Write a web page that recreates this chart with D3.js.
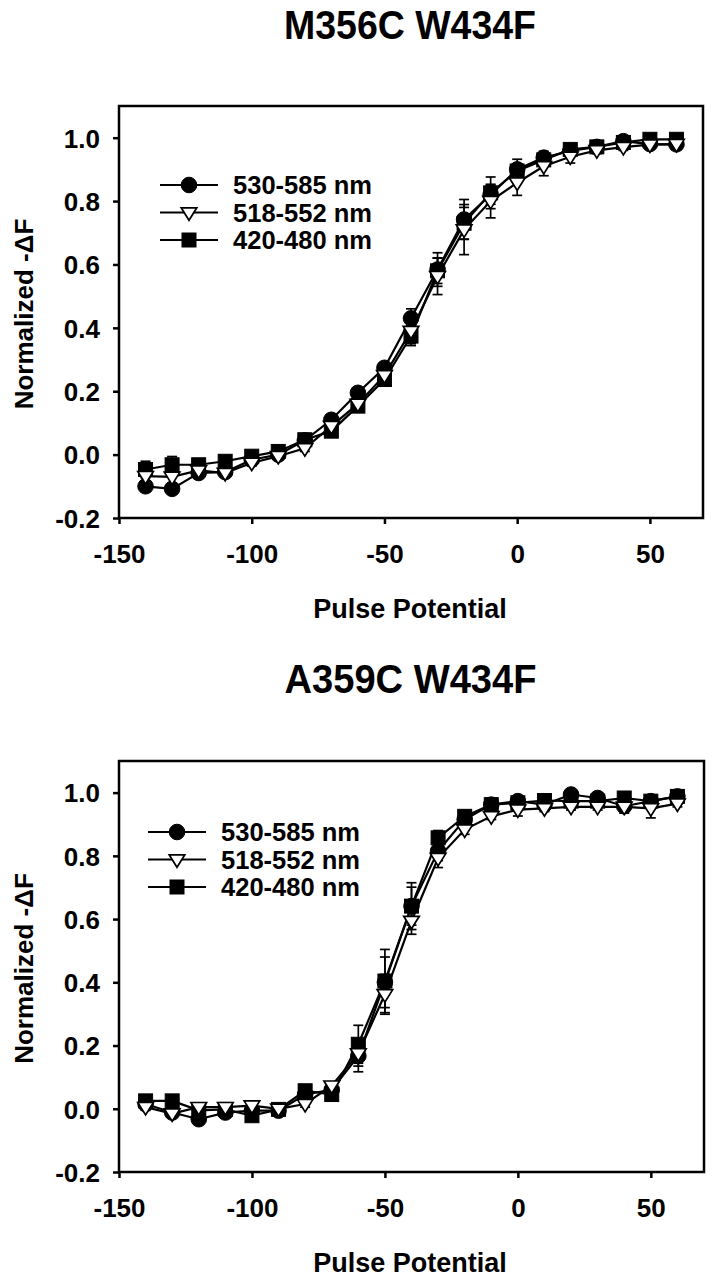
<!DOCTYPE html>
<html>
<head>
<meta charset="utf-8">
<script src="https://cdn.jsdelivr.net/npm/d3@7"></script>
<style>
  html, body { margin: 0; padding: 0; background: #fff; }
  svg { display: block; }
  text { font-family: "Liberation Sans", Arial, Helvetica, sans-serif; font-weight: bold; fill: #000; }
</style>
</head>
<body>
<script>
// ---------------- data ----------------
const potentials = [-140,-130,-120,-110,-100,-90,-80,-70,-60,-50,-40,-30,-20,-10,0,10,20,30,40,50,60];
const seriesNames = ["530-585 nm", "518-552 nm", "420-480 nm"];
const xTicks = [-150, -100, -50, 0, 50];
const yTicks = [-0.2, 0.0, 0.2, 0.4, 0.6, 0.8, 1.0];
const panelTitles = ["M356C W434F", "A359C W434F"];
const xTitle = "Pulse Potential";
const yTitle = "Normalized -\u0394F";

// Panel 1: M356C W434F
const m356_530 = [-0.100,-0.108,-0.058,-0.055,-0.016,0.000,0.045,0.110,0.195,0.274,0.430,0.584,0.742,0.820,0.900,0.937,0.958,0.971,0.989,0.980,0.979];
const m356_518 = [-0.068,-0.070,-0.050,-0.058,-0.026,-0.005,0.020,0.090,0.160,0.250,0.390,0.563,0.710,0.800,0.858,0.910,0.940,0.960,0.970,0.978,0.980];
const m356_420 = [-0.047,-0.032,-0.032,-0.021,-0.005,0.010,0.047,0.074,0.153,0.237,0.374,0.580,0.730,0.826,0.895,0.930,0.963,0.971,0.985,0.995,0.995];
const m356_530_err = [0.010,0.010,0.008,0.008,0.008,0.008,0.008,0.010,0.010,0.015,0.030,0.053,0.063,0.030,0.032,0.020,0.010,0.008,0.008,0.008,0.008];
const m356_518_err = [0.015,0.020,0.010,0.010,0.010,0.010,0.010,0.010,0.015,0.020,0.040,0.058,0.079,0.053,0.040,0.030,0.020,0.010,0.010,0.010,0.010];
const m356_420_err = [0.026,0.026,0.010,0.010,0.008,0.008,0.008,0.010,0.015,0.020,0.030,0.040,0.050,0.050,0.020,0.010,0.010,0.008,0.008,0.008,0.008];

// Panel 2: A359C W434F
const a359_530 = [0.015,-0.012,-0.033,-0.012,-0.006,-0.006,0.045,0.060,0.167,0.400,0.641,0.815,0.915,0.962,0.973,0.962,0.994,0.983,0.957,0.973,0.988];
const a359_518 = [0.005,-0.015,0.005,0.005,0.010,0.000,0.015,0.073,0.175,0.362,0.594,0.793,0.883,0.925,0.946,0.950,0.955,0.955,0.955,0.950,0.965];
const a359_420 = [0.025,0.025,-0.005,-0.002,-0.022,-0.002,0.057,0.045,0.204,0.404,0.641,0.857,0.925,0.962,0.968,0.975,0.973,0.973,0.983,0.973,0.988];
const a359_530_err = [0.008,0.008,0.008,0.008,0.008,0.008,0.008,0.010,0.050,0.080,0.060,0.030,0.010,0.010,0.010,0.010,0.010,0.010,0.010,0.010,0.008];
const a359_518_err = [0.010,0.010,0.010,0.010,0.010,0.010,0.010,0.010,0.040,0.063,0.042,0.030,0.015,0.010,0.020,0.010,0.010,0.010,0.020,0.030,0.010];
const a359_420_err = [0.008,0.008,0.008,0.008,0.008,0.008,0.008,0.010,0.060,0.100,0.074,0.023,0.010,0.008,0.008,0.008,0.008,0.008,0.008,0.008,0.008];

// ---------------- layout ----------------
const W = 713, H = 1280;
const svg = d3.select("body").append("svg").attr("width", W).attr("height", H);

const panels = [
  { title: panelTitles[0], titleY: 39, left: 119, right: 703, top: 106, bottom: 518,
    legendX: 160, legendY: 185,
    series: [
      { name: seriesNames[0], vals: m356_530, err: m356_530_err, shape: "circle" },
      { name: seriesNames[1], vals: m356_518, err: m356_518_err, shape: "triangle" },
      { name: seriesNames[2], vals: m356_420, err: m356_420_err, shape: "square" }
    ] },
  { title: panelTitles[1], titleY: 693, left: 119, right: 704, top: 761, bottom: 1172,
    legendX: 148, legendY: 832,
    series: [
      { name: seriesNames[0], vals: a359_530, err: a359_530_err, shape: "circle" },
      { name: seriesNames[1], vals: a359_518, err: a359_518_err, shape: "triangle" },
      { name: seriesNames[2], vals: a359_420, err: a359_420_err, shape: "square" }
    ] }
];

const fmtY = d => d3.format(".1f")(d).replace("\u2212", "-");
const fmtX = d => String(d);

function drawMarker(g, shape, cx, cy) {
  if (shape === "circle") {
    g.append("circle").attr("cx", cx).attr("cy", cy).attr("r", 7.8)
      .attr("fill", "#000").attr("stroke", "#000").attr("stroke-width", 1);
  } else if (shape === "square") {
    g.append("rect").attr("x", cx - 7).attr("y", cy - 7).attr("width", 14).attr("height", 14)
      .attr("fill", "#000").attr("stroke", "#000").attr("stroke-width", 1);
  } else {
    const s = 7.8;
    g.append("path")
      .attr("d", `M${cx - s},${cy - s * 0.6}L${cx + s},${cy - s * 0.6}L${cx},${cy + s * 1.0}Z`)
      .attr("fill", "#fff").attr("stroke", "#000").attr("stroke-width", 1.7);
  }
}

panels.forEach(p => {
  const x = d3.scaleLinear().domain([-150, 70]).range([p.left, p.right]);
  const y = d3.scaleLinear().domain([-0.2, 1.1]).range([p.bottom, p.top]);
  const g = svg.append("g");

  // title
  g.append("text").attr("x", (p.left + p.right) / 2 - 1).attr("y", p.titleY)
    .attr("text-anchor", "middle").style("font-size", "40px")
    .attr("textLength", 252).attr("lengthAdjust", "spacingAndGlyphs")
    .text(p.title);

  // x axis
  const xAxis = g.append("g").attr("transform", `translate(0,${p.bottom})`)
    .call(d3.axisBottom(x).tickValues(xTicks).tickFormat(fmtX).tickSize(6).tickSizeOuter(0));
  xAxis.select(".domain").remove();
  xAxis.selectAll(".tick line").attr("stroke", "#000").attr("stroke-width", 2.5);
  xAxis.selectAll(".tick text").attr("y", 45).attr("dy", 0).style("font-size", "26px");

  // y axis
  const yAxis = g.append("g").attr("transform", `translate(${p.left},0)`)
    .call(d3.axisLeft(y).tickValues(yTicks).tickFormat(fmtY).tickSize(6).tickSizeOuter(0));
  yAxis.select(".domain").remove();
  yAxis.selectAll(".tick line").attr("stroke", "#000").attr("stroke-width", 2.5);
  yAxis.selectAll(".tick text").attr("x", -19).attr("dy", "0.36em").style("font-size", "26px");

  // frame
  g.append("rect").attr("x", p.left).attr("y", p.top)
    .attr("width", p.right - p.left).attr("height", p.bottom - p.top)
    .attr("fill", "none").attr("stroke", "#000").attr("stroke-width", 2.5);

  // axis titles
  g.append("text").attr("x", 410).attr("y", p.bottom + 100)
    .attr("text-anchor", "middle").style("font-size", "27px").text(xTitle);
  g.append("text").attr("transform", `translate(33,${(p.top + p.bottom) / 2 + 2}) rotate(-90)`)
    .attr("text-anchor", "middle").style("font-size", "26px").text(yTitle);

  // lines
  const line = d3.line().x((d, i) => x(potentials[i])).y(d => y(d));
  p.series.forEach(s => {
    g.append("path").datum(s.vals).attr("d", line)
      .attr("fill", "none").attr("stroke", "#000").attr("stroke-width", 2.2);
  });

  // error bars
  p.series.forEach(s => {
    const eg = g.append("g");
    s.vals.forEach((v, i) => {
      const e = s.err[i];
      if (!e) return;
      const cx = x(potentials[i]);
      const y1 = y(v + e), y2 = y(v - e);
      eg.append("line").attr("x1", cx).attr("x2", cx).attr("y1", y1).attr("y2", y2)
        .attr("stroke", "#000").attr("stroke-width", 1.7);
      [y1, y2].forEach(yy => eg.append("line").attr("x1", cx - 5).attr("x2", cx + 5)
        .attr("y1", yy).attr("y2", yy).attr("stroke", "#000").attr("stroke-width", 1.7));
    });
  });

  // markers: squares, circles, triangles
  const order = ["square", "circle", "triangle"];
  order.forEach(shape => {
    const s = p.series.find(t => t.shape === shape);
    const mg = g.append("g");
    s.vals.forEach((v, i) => drawMarker(mg, shape, x(potentials[i]), y(v)));
  });

  // legend
  p.series.forEach((s, k) => {
    const ly = p.legendY + k * 27.5;
    g.append("line").attr("x1", p.legendX).attr("x2", p.legendX + 58)
      .attr("y1", ly).attr("y2", ly).attr("stroke", "#000").attr("stroke-width", 2.2);
    drawMarker(g, s.shape, p.legendX + 29, ly);
    g.append("text").attr("x", p.legendX + 73).attr("y", ly + 9)
      .style("font-size", "25px")
      .attr("textLength", 139).attr("lengthAdjust", "spacingAndGlyphs")
      .text(s.name);
  });
});
</script>
</body>
</html>
